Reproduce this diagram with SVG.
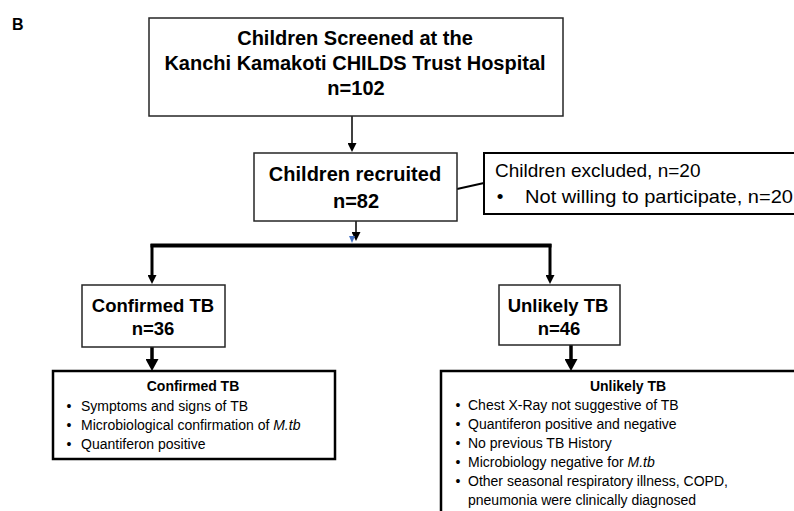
<svg xmlns="http://www.w3.org/2000/svg" width="794" height="511" viewBox="0 0 794 511">
<style>
.box{fill:#fff;stroke:#262626;stroke-width:1.5}
.xbox{fill:#fff;stroke:#000;stroke-width:2}
.dbox{fill:#fff;stroke:#000;stroke-width:2.5}
.t{font-family:"Liberation Sans",Arial,sans-serif;fill:#000}
.b{font-weight:bold}
.title{font-size:20px;font-weight:bold;text-anchor:middle}
.mid{font-size:18.5px;font-weight:bold;text-anchor:middle}
.ex{font-size:19px}
.d{font-size:14px}
.dh{font-size:14px;font-weight:bold;text-anchor:middle}
.bul{font-size:14px;text-anchor:middle}
.ln{fill:none;stroke:#000}
</style>
<defs>
<marker id="ah" markerUnits="userSpaceOnUse" markerWidth="10" markerHeight="9" refX="0" refY="4.5" orient="auto">
<path d="M0,0 L9,4.5 L0,9 z" fill="#000"/>
</marker>
<marker id="ahb" markerUnits="userSpaceOnUse" markerWidth="13" markerHeight="13" refX="0" refY="6.5" orient="auto">
<path d="M0,0 L12,6.5 L0,13 z" fill="#000"/>
</marker>
</defs>
<rect width="794" height="511" fill="#fff"/>
<text class="t b" x="12" y="30" font-size="16">B</text>

<g id="connectors">
<line class="ln" x1="352" y1="116" x2="352" y2="143" stroke-width="1.5" marker-end="url(#ah)"/>
<line class="ln" x1="457" y1="189" x2="484" y2="183" stroke-width="2"/>
<line class="ln" x1="356" y1="221" x2="356" y2="232" stroke-width="1.5" marker-end="url(#ah)"/>
<polygon points="349,236 355,236 352,243" fill="#4472c4"/>
<line class="ln" x1="150.5" y1="245.5" x2="551.5" y2="245.5" stroke-width="4"/>
<line class="ln" x1="152" y1="244" x2="152" y2="275" stroke-width="3" marker-end="url(#ah)"/>
<line class="ln" x1="550" y1="244" x2="550" y2="275" stroke-width="3" marker-end="url(#ah)"/>
<line class="ln" x1="152" y1="347" x2="152" y2="359" stroke-width="3.5" marker-end="url(#ahb)"/>
<line class="ln" x1="571" y1="345" x2="571" y2="359" stroke-width="3.5" marker-end="url(#ahb)"/>
</g>

<g id="screened">
<rect class="box" x="149" y="18" width="414" height="98"/>
<text class="t title" x="355" y="45">Children Screened at the</text>
<text class="t title" x="355" y="70">Kanchi Kamakoti CHILDS Trust Hospital</text>
<text class="t title" x="356" y="95">n=102</text>
</g>

<g id="recruited">
<rect class="box" x="254" y="153" width="203" height="68"/>
<text class="t title" x="355" y="181" font-size="20.5">Children recruited</text>
<text class="t title" x="356" y="208" font-size="20.5">n=82</text>
</g>

<g id="excluded">
<rect class="xbox" x="484" y="153" width="330" height="61"/>
<text class="t ex" x="495" y="177">Children excluded, n=20</text>
<text class="t ex" x="500" y="203" text-anchor="middle">•</text>
<text class="t ex" x="525" y="203" textLength="268" lengthAdjust="spacingAndGlyphs">Not willing to participate, n=20</text>
</g>

<g id="confirmed">
<rect class="box" x="82" y="285" width="143" height="62"/>
<text class="t mid" x="153" y="312">Confirmed TB</text>
<text class="t mid" x="153" y="335">n=36</text>
</g>

<g id="unlikely">
<rect class="box" x="499" y="285" width="121" height="60"/>
<text class="t mid" x="558" y="312">Unlikely TB</text>
<text class="t mid" x="559" y="335">n=46</text>
</g>

<g id="confirmed-details">
<rect class="dbox" x="53" y="371" width="282" height="88"/>
<text class="t dh" x="193" y="391">Confirmed TB</text>
<text class="t bul" x="69" y="411">•</text>
<text class="t d" x="81" y="411">Symptoms and signs of TB</text>
<text class="t bul" x="69" y="430">•</text>
<text class="t d" x="81" y="430">Microbiological confirmation of <tspan font-style="italic">M.tb</tspan></text>
<text class="t bul" x="69" y="449">•</text>
<text class="t d" x="81" y="449">Quantiferon positive</text>
</g>

<g id="unlikely-details">
<rect class="dbox" x="441" y="371" width="380" height="160"/>
<text class="t dh" x="628" y="391">Unlikely TB</text>
<text class="t bul" x="458" y="410">•</text>
<text class="t d" x="468" y="410">Chest X-Ray not suggestive of TB</text>
<text class="t bul" x="458" y="429">•</text>
<text class="t d" x="468" y="429">Quantiferon positive and negative</text>
<text class="t bul" x="458" y="448">•</text>
<text class="t d" x="468" y="448">No previous TB History</text>
<text class="t bul" x="458" y="467">•</text>
<text class="t d" x="468" y="467">Microbiology negative for <tspan font-style="italic">M.tb</tspan></text>
<text class="t bul" x="458" y="486">•</text>
<text class="t d" x="468" y="486">Other seasonal respiratory illness, COPD,</text>
<text class="t d" x="468" y="505">pneumonia were clinically diagnosed</text>
</g>
</svg>
